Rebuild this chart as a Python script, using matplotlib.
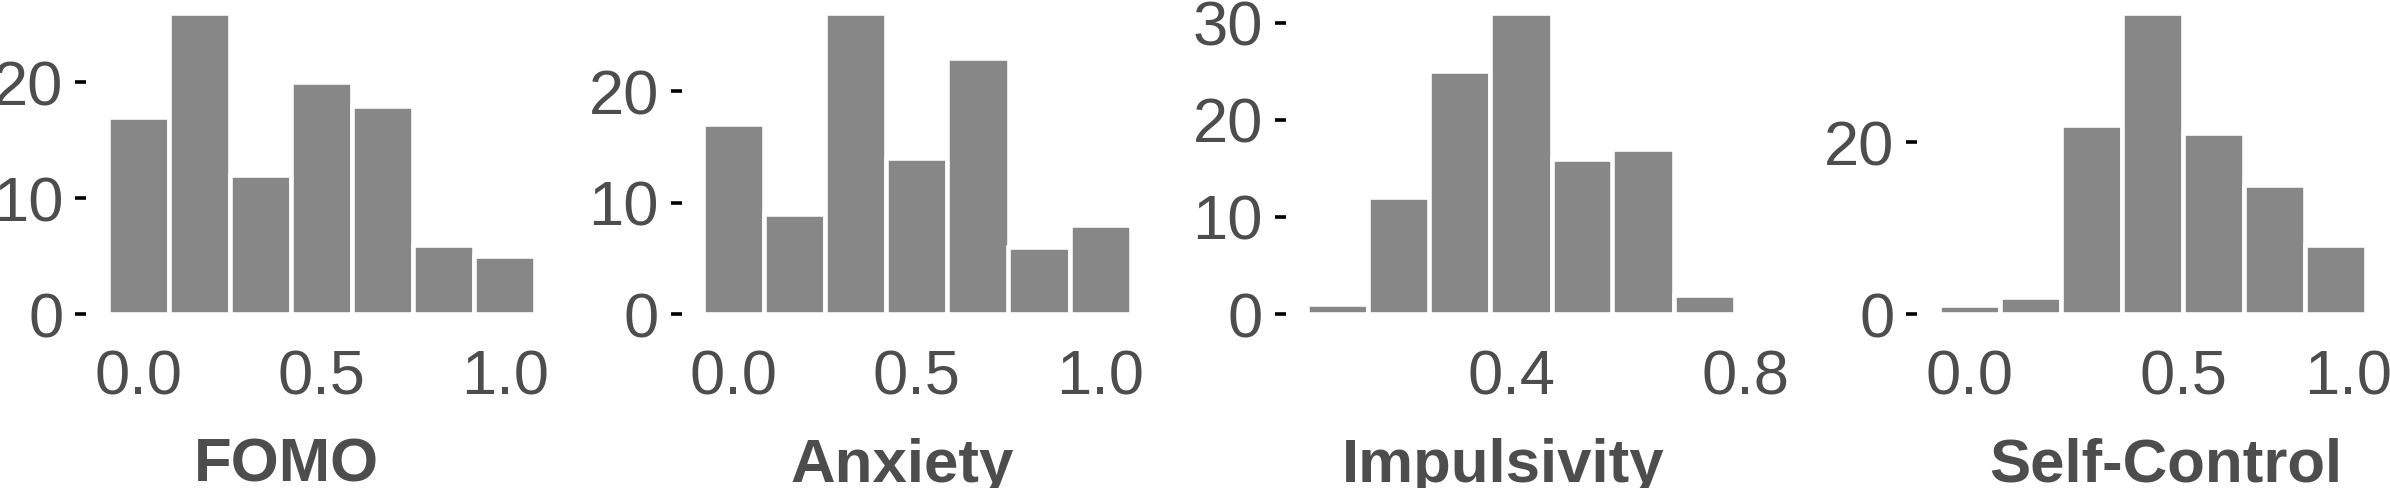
import matplotlib
matplotlib.use("Agg")
import matplotlib.pyplot as plt

plt.rcParams['font.family'] = ['Liberation Sans', 'DejaVu Sans']

# histogram bins (centre of each bin) and counts
fomo_centers = [0.0, 0.1667, 0.3333, 0.5, 0.6667, 0.8333, 1.0]
fomo_counts = [17, 26, 12, 20, 18, 6, 5]
fomo_width = 0.1667

anxiety_centers = [0.0, 0.1667, 0.3333, 0.5, 0.6667, 0.8333, 1.0]
anxiety_counts = [17, 9, 27, 14, 23, 6, 8]
anxiety_width = 0.1667

impulsivity_centers = [0.102, 0.207, 0.311, 0.416, 0.521, 0.625, 0.730]
impulsivity_counts = [1, 12, 25, 31, 16, 17, 2]
impulsivity_width = 0.1047

selfcontrol_centers = [0.0, 0.1429, 0.2857, 0.4286, 0.5714, 0.7143, 0.8571]
selfcontrol_counts = [1, 2, 22, 35, 21, 15, 8]
selfcontrol_width = 0.1429

titles = ["FOMO", "Anxiety", "Impulsivity", "Self-Control"]
x_ticks = [[0.0, 0.5, 1.0], [0.0, 0.5, 1.0], [0.4, 0.8], [0.0, 0.5, 1.0]]
y_ticks = [[0, 10, 20], [0, 10, 20], [0, 10, 20, 30], [0, 20]]

panels = [
    (fomo_centers, fomo_counts, fomo_width),
    (anxiety_centers, anxiety_counts, anxiety_width),
    (impulsivity_centers, impulsivity_counts, impulsivity_width),
    (selfcontrol_centers, selfcontrol_counts, selfcontrol_width),
]

# layout (pixels)
W, H = 2390, 488
panel_left = [86.2, 681.6, 1285.8, 1917.3]
panel_w = 470.5
panel_bottom = 329.05
panel_h = 331.1
title_x = [286, 902, 1503, 2166]
title_base = 481.7

text_col = '#4D4D4D'
tick_fs = 45.5
xpad = 13.9

fig = plt.figure(figsize=(W / 100, H / 100), dpi=100)

for i, (centers, counts, w) in enumerate(panels):
    ax = fig.add_axes([panel_left[i] / W, 1 - panel_bottom / H, panel_w / W, panel_h / H])
    ax.bar(centers, counts, width=w, color='#878787', edgecolor='white', linewidth=3.3)

    span = centers[-1] - centers[0] + w
    lo = centers[0] - w / 2 - 0.05 * span
    hi = centers[-1] + w / 2 + 0.05 * span
    ax.set_xlim(lo, hi)
    ymax = max(counts)
    ax.set_ylim(-0.05 * ymax, 1.05 * ymax)

    for s in ax.spines.values():
        s.set_visible(False)
    ax.set_facecolor('white')

    inside = [t for t in x_ticks[i] if lo <= t <= hi]
    ax.set_xticks(inside)
    ax.set_xticklabels(['%.1f' % t for t in inside])
    # a label that falls past the panel edge is still shown in the original
    for t in x_ticks[i]:
        if t > hi:
            ax.annotate('%.1f' % t, xy=(t, 0), xycoords=ax.get_xaxis_transform(),
                        xytext=(-3.6, -xpad), textcoords='offset points',
                        ha='right', va='top', fontsize=tick_fs, color=text_col,
                        annotation_clip=False)
    ax.set_yticks(y_ticks[i])
    ax.set_yticklabels([str(t) for t in y_ticks[i]])

    ax.tick_params(axis='y', length=8.1, width=2.6, color='black', pad=8.3,
                   labelsize=tick_fs, labelcolor=text_col)
    ax.tick_params(axis='x', length=0, pad=xpad, labelsize=tick_fs, labelcolor=text_col)

    fig.text(title_x[i] / W, 1 - title_base / H, titles[i], ha='center', va='baseline',
             fontsize=44.5, fontweight='bold', color=text_col)

fig.savefig('out.png', dpi=100)
